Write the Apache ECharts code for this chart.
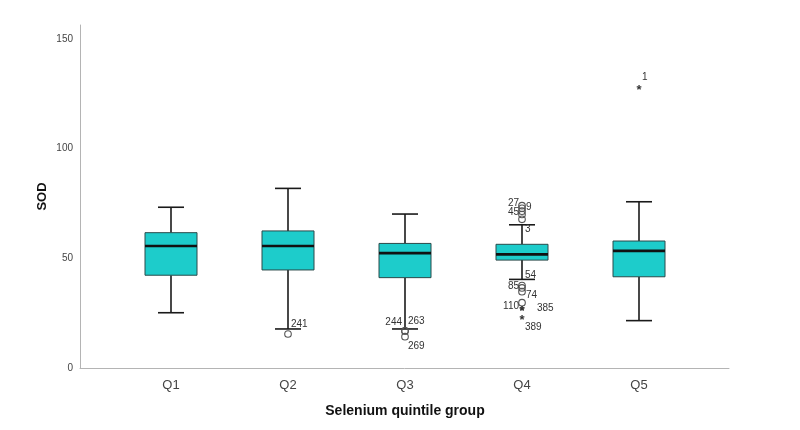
<!DOCTYPE html>
<html><head><meta charset="utf-8">
<script src="https://cdn.jsdelivr.net/npm/echarts@6/dist/echarts.min.js"></script>
<style>html,body{margin:0;padding:0;background:#fff}#c{width:800px;height:430px}</style>
</head><body><div id="c"></div>
<script>
// ---- data ----
const categories = ['Q1', 'Q2', 'Q3', 'Q4', 'Q5'];
const whiskerLow  = [25.2, 17.8, 17.8, 40.4, 21.6];
const boxQ1       = [42.3, 44.7, 41.2, 49.2, 41.6];
const medians     = [55.6, 55.6, 52.4, 51.8, 53.4];
const boxQ3       = [61.7, 62.5, 56.8, 56.4, 57.9];
const whiskerHigh = [73.3, 81.9, 70.2, 65.3, 75.8];

const outlierGroup = ['Q2', 'Q3', 'Q3', 'Q3', 'Q4', 'Q4', 'Q4', 'Q4', 'Q4', 'Q4', 'Q4', 'Q4', 'Q4', 'Q4', 'Q4', 'Q4', 'Q5'];
const outlierValue = [15.5, 16.9, 16.9, 14.3, 74.0, 72.8, 71.5, 70.0, 67.8, 37.6, 36.5, 34.8, 29.8, 27.2, 27.2, 23.1, 128.1];
const outlierId    = ['241', '244', '263', '269', '27', '9', '', '45', '3', '54', '85', '74', '', '110', '385', '389', '1'];
const outlierKind  = ['o', 'o', 'o', 'o', 'o', 'o', 'o', 'o', 'o', 'o', 'o', 'o', 'o', '*', '*', '*', '*'];
const yTicks = [0, 50, 100, 150];

// ---- style (label placement per outlier) ----
const labelPlace = ['tr', 'tl', 'tr', 'br', 'l', 'r', 'r', 'l', 'br', 'tr', 'l', 'rb', 'r', 'l', 'rr', 'br', 'tr'];
const placeOffset = {
  tr: [3, -10, 'left'], tl: [-3, -9, 'right'], br: [3, 10, 'left'],
  l: [-3, -2, 'right'], r: [4, -1, 'left'], rb: [4, 4, 'left'], rr: [15, 0, 'left']
};

const FONT = '"Liberation Sans", Arial, sans-serif';
const YMAX = 156.4;
const boxData = categories.map((c, i) => [i, whiskerLow[i], boxQ1[i], medians[i], boxQ3[i], whiskerHigh[i]]);
const outData = outlierValue.map((v, i) => [categories.indexOf(outlierGroup[i]), v, i]);

const chart = echarts.init(document.getElementById('c'), null, {renderer: 'canvas'});
chart.setOption({
  backgroundColor: '#fff',
  animation: false,
  grid: [
    {left: 112.5, right: 102.5, top: 25, bottom: 62},
    {left: 80, right: 71, top: 25, bottom: 62}
  ],
  xAxis: [
    {type: 'category', gridIndex: 0, data: categories, boundaryGap: true,
     axisLine: {show: false}, axisTick: {show: false},
     axisLabel: {color: '#444', fontSize: 13, fontFamily: FONT, margin: 11},
     name: 'Selenium quintile group', nameLocation: 'middle', nameGap: 36,
     nameTextStyle: {color: '#111', fontSize: 14, fontWeight: 'bold', fontFamily: FONT}},
    {type: 'value', gridIndex: 1, min: 0, max: 1,
     axisLine: {show: true, lineStyle: {color: '#b4b4b4', width: 1}},
     axisTick: {show: false}, axisLabel: {show: false}, splitLine: {show: false}}
  ],
  yAxis: [
    {type: 'value', gridIndex: 0, min: 0, max: YMAX, show: false, splitLine: {show: false}},
    {type: 'value', gridIndex: 1, min: 0, max: YMAX, interval: 50,
     axisLine: {show: true, lineStyle: {color: '#b4b4b4', width: 1}},
     axisTick: {show: false}, splitLine: {show: false},
     axisLabel: {color: '#444', fontSize: 10, fontFamily: FONT, margin: 7, showMaxLabel: false,
                 formatter: v => yTicks.indexOf(v) >= 0 ? String(v) : ''},
     name: 'SOD', nameLocation: 'middle', nameGap: 31, nameMoveOverlap: false,
     nameTextStyle: {color: '#111', fontSize: 13, fontWeight: 'bold', fontFamily: FONT}}
  ],
  series: [
    {
      type: 'custom', xAxisIndex: 0, yAxisIndex: 0, data: boxData,
      renderItem: function (params, api) {
        const x = api.value(0);
        const pLo = api.coord([x, api.value(1)]);
        const pQ1 = api.coord([x, api.value(2)]);
        const pMd = api.coord([x, api.value(3)]);
        const pQ3 = api.coord([x, api.value(4)]);
        const pHi = api.coord([x, api.value(5)]);
        const cx = Math.round(pMd[0]);
        const bw = 52, cw = 26;
        const ls = {stroke: '#1a1a1a', lineWidth: 1.6};
        return {type: 'group', children: [
          {type: 'line', shape: {x1: cx, y1: pHi[1], x2: cx, y2: pQ3[1]}, style: ls},
          {type: 'line', shape: {x1: cx, y1: pQ1[1], x2: cx, y2: pLo[1]}, style: ls},
          {type: 'line', shape: {x1: cx - cw / 2, y1: pHi[1], x2: cx + cw / 2, y2: pHi[1]}, style: ls},
          {type: 'line', shape: {x1: cx - cw / 2, y1: pLo[1], x2: cx + cw / 2, y2: pLo[1]}, style: ls},
          {type: 'rect', shape: {x: cx - bw / 2, y: pQ3[1], width: bw, height: pQ1[1] - pQ3[1]},
           style: {fill: '#1dcccb', stroke: '#2a4a4a', lineWidth: 1}},
          {type: 'line', shape: {x1: cx - bw / 2, y1: pMd[1], x2: cx + bw / 2, y2: pMd[1]},
           style: {stroke: '#111', lineWidth: 2.6}}
        ]};
      }
    },
    {
      type: 'custom', xAxisIndex: 0, yAxisIndex: 0, data: outData, z: 5,
      renderItem: function (params, api) {
        const i = api.value(2);
        const p = api.coord([api.value(0), api.value(1)]);
        const cx = Math.round(p[0]);
        const kids = [];
        if (outlierKind[i] === 'o') {
          kids.push({type: 'circle', shape: {cx: cx, cy: p[1], r: 3.3},
                     style: {fill: 'rgba(255,255,255,0)', stroke: '#555', lineWidth: 1.1}});
        } else {
          kids.push({type: 'text', x: cx, y: p[1] + 3,
                     style: {text: '*', fill: '#333', font: 'bold 13px ' + FONT, align: 'center', verticalAlign: 'middle'}});
        }
        if (outlierId[i]) {
          const o = placeOffset[labelPlace[i]];
          kids.push({type: 'text', x: cx + o[0], y: p[1] + o[1],
                     style: {text: outlierId[i], fill: '#333', font: '10px ' + FONT, align: o[2], verticalAlign: 'middle'}});
        }
        return {type: 'group', children: kids};
      }
    }
  ]
});
</script></body></html>
